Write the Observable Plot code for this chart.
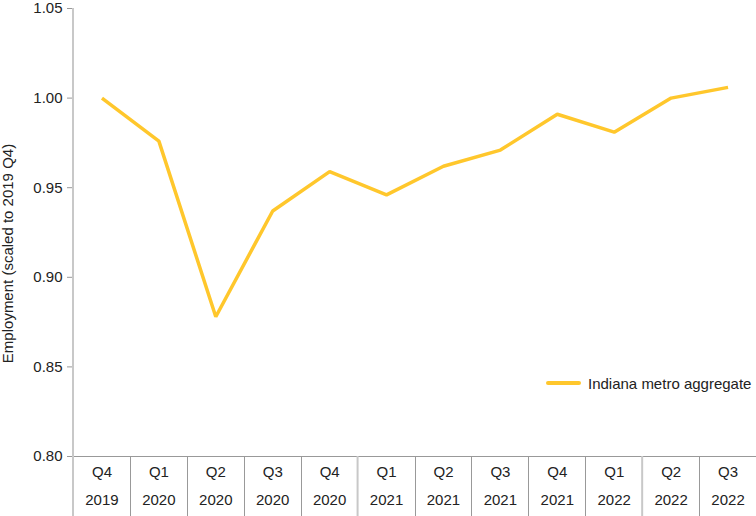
<!DOCTYPE html>
<html><head><meta charset="utf-8">
<script src="https://cdn.jsdelivr.net/npm/d3@7"></script>
<script src="https://cdn.jsdelivr.net/npm/@observablehq/plot@0.6"></script>
<style>
body{margin:0;background:#fff;}
#wrap{position:relative;width:756px;height:516px;font-family:"Liberation Sans",Arial,Helvetica,sans-serif;}
#legend{position:absolute;left:546px;top:374px;font-size:15px;color:#222;display:flex;align-items:center;height:18px;}
#legend .sw{display:inline-block;width:35px;height:4px;background:#FFC72C;margin-right:7px;border-radius:2px;}
</style></head><body>
<div id="wrap"><div id="legend"><span class="sw"></span><span>Indiana metro aggregate</span></div></div>
<script>
const quarters = ["Q4","Q1","Q2","Q3","Q4","Q1","Q2","Q3","Q4","Q1","Q2","Q3"];
const years = ["2019","2020","2020","2020","2020","2021","2021","2021","2021","2022","2022","2022"];
const values = [1.000,0.976,0.878,0.937,0.959,0.946,0.962,0.971,0.991,0.981,1.000,1.006];
const yTicks = [0.80,0.85,0.90,0.95,1.00,1.05];
const seriesName = "Indiana metro aggregate";
const lineColor = "#FFC72C";

const keys = quarters.map((q,i)=>years[i]+" "+q);
const data = quarters.map((q,i)=>({key:keys[i], q, year:years[i], value:values[i]}));

function separators(index, scales, values, dims){
  const x = scales.x;
  const step = x(keys[1]) - x(keys[0]);
  const g = d3.create("svg:g");
  const top = dims.height - dims.marginBottom;
  const bounds = keys.map((k,i)=>x(k)-step/2);
  bounds.forEach((bx,i)=>{
    const light = (i===0 || i===5 || i===10);
    const y1 = i===0 ? dims.marginTop : top;
    const px = light ? bx : Math.round(bx)+0.5;
    g.append("line")
      .attr("x1", px).attr("x2", px)
      .attr("y1", y1).attr("y2", dims.height)
      .attr("stroke", light ? "#c8c8c8" : "#999")
      .attr("stroke-width", light ? 2 : 1);
  });
  return g.node();
}

const chart = Plot.plot({
  width:756, height:516,
  marginLeft:73, marginRight:0, marginTop:8, marginBottom:60,
  style:{fontFamily:'"Liberation Sans",Arial,Helvetica,sans-serif', fontSize:"15px", color:"#222", background:"#fff"},
  x:{type:"point", domain:keys, padding:0.5, align:0.5, round:false, axis:null},
  y:{domain:[0.80,1.05], axis:null},
  marks:[
    Plot.axisY(yTicks, {tickFormat:d3.format(".2f"), tickSize:6, tickPadding:5, stroke:"#999", fill:"#222", label:null, fontSize:15}),
    Plot.ruleY([0.80], {stroke:"#999", strokeWidth:1}),
    separators,
    Plot.line(data, {x:"key", y:"value", stroke:lineColor, strokeWidth:3.5, strokeLinejoin:"miter", strokeLinecap:"butt"}),
    Plot.text(data, {x:"key", text:"q", frameAnchor:"bottom", dy:20.5, fill:"#222", fontSize:15}),
    Plot.text(data, {x:"key", text:"year", frameAnchor:"bottom", dy:48, fill:"#222", fontSize:15}),
    Plot.text(["Employment (scaled to 2019 Q4)"], {frameAnchor:"left", textAnchor:"middle", rotate:-90, dx:-65, dy:21, fill:"#222", fontSize:15})
  ]
});
document.getElementById("wrap").prepend(chart);
</script>
</body></html>
